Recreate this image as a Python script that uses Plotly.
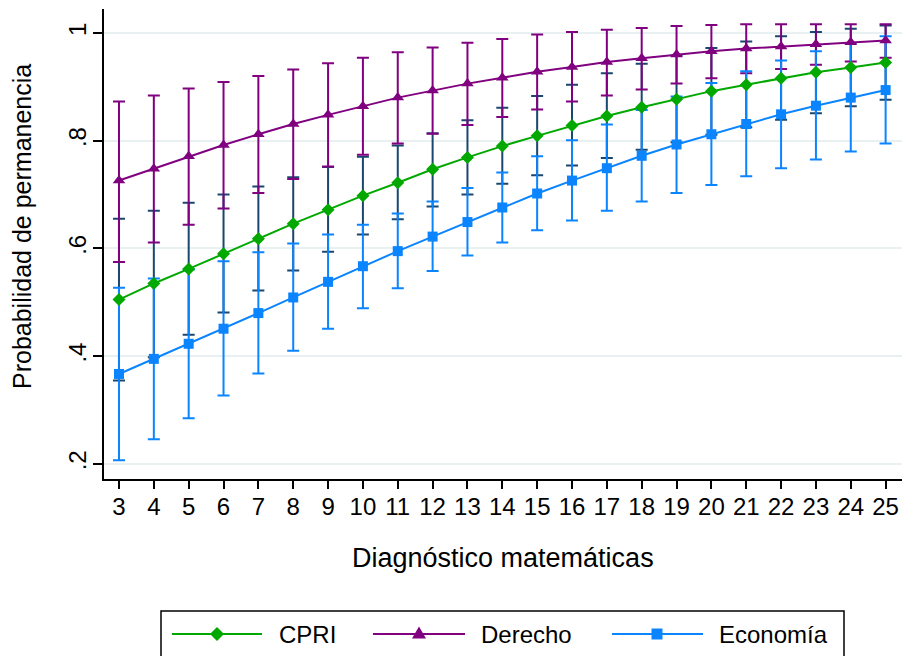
import plotly.graph_objects as go

# Mathematics diagnostic score (x axis)
score = list(range(3, 26))

# Predicted probability of staying enrolled, with 95% confidence limits
cpri_mean = [0.505, 0.535, 0.562, 0.590, 0.618, 0.646, 0.672, 0.698, 0.722, 0.747, 0.769, 0.790,
             0.809, 0.828, 0.846, 0.862, 0.877, 0.892, 0.904, 0.916, 0.927, 0.936, 0.945]
cpri_low = [0.355, 0.398, 0.440, 0.481, 0.522, 0.559, 0.594, 0.626, 0.654, 0.678, 0.700, 0.720,
            0.736, 0.754, 0.768, 0.783, 0.797, 0.811, 0.825, 0.839, 0.851, 0.864, 0.876]
cpri_high = [0.655, 0.670, 0.685, 0.700, 0.715, 0.732, 0.751, 0.770, 0.791, 0.814, 0.838, 0.861,
             0.883, 0.904, 0.925, 0.943, 0.958, 0.972, 0.984, 0.994, 1.002, 1.008, 1.014]

derecho_mean = [0.726, 0.748, 0.771, 0.792, 0.812, 0.831, 0.848, 0.864, 0.880, 0.893, 0.906, 0.917,
                0.928, 0.937, 0.946, 0.953, 0.960, 0.966, 0.971, 0.975, 0.979, 0.983, 0.986]
derecho_low = [0.575, 0.611, 0.644, 0.674, 0.703, 0.729, 0.752, 0.774, 0.795, 0.813, 0.829, 0.844,
               0.858, 0.873, 0.884, 0.895, 0.906, 0.916, 0.925, 0.933, 0.941, 0.947, 0.954]
derecho_high = [0.873, 0.884, 0.897, 0.909, 0.920, 0.932, 0.944, 0.954, 0.964, 0.973, 0.982, 0.989,
                0.997, 1.002, 1.006, 1.009, 1.013, 1.015, 1.016, 1.016, 1.016, 1.016, 1.016]

economia_mean = [0.367, 0.395, 0.423, 0.451, 0.480, 0.509, 0.538, 0.567, 0.595, 0.622, 0.649, 0.676,
                 0.702, 0.726, 0.749, 0.772, 0.793, 0.812, 0.831, 0.849, 0.865, 0.880, 0.894]
economia_low = [0.207, 0.246, 0.285, 0.327, 0.368, 0.410, 0.451, 0.489, 0.526, 0.558, 0.587, 0.611,
                0.634, 0.652, 0.670, 0.687, 0.703, 0.718, 0.734, 0.749, 0.765, 0.780, 0.795]
economia_high = [0.527, 0.544, 0.561, 0.576, 0.593, 0.609, 0.626, 0.644, 0.665, 0.687, 0.712, 0.741,
                 0.771, 0.801, 0.830, 0.857, 0.882, 0.907, 0.929, 0.949, 0.966, 0.981, 0.994]

y_ticks = [0.2, 0.4, 0.6, 0.8, 1.0]
y_tick_text = [".2", ".4", ".6", ".8", "1"]

series = [
    # name, mean, low, high, line colour, CI colour, marker symbol, marker size
    ("CPRI", cpri_mean, cpri_low, cpri_high, "#00a800", "#1a476f", "diamond", 10),
    ("Derecho", derecho_mean, derecho_low, derecho_high, "#800080", "#800080", "triangle-up", 11),
    ("Economía", economia_mean, economia_low, economia_high, "#0a84ff", "#0a84ff", "square", 10),
]

FONT = "Liberation Sans, Arial, Helvetica, sans-serif"
FIG_W, FIG_H = 902, 656
M_L, M_R, M_T, M_B = 104, 0, 9, 177
PW = FIG_W - M_L - M_R
PH = FIG_H - M_T - M_B


def fx(px):
    return (px - M_L) / PW


def fy(py):
    return (FIG_H - M_B - py) / PH


fig = go.Figure()

# confidence-interval caps first, so every line and marker sits on top
for name, mean, low, high, lc, cc, sym, ms in series:
    fig.add_trace(go.Scatter(
        x=score, y=mean, mode="markers",
        marker=dict(size=1, opacity=0),
        error_y=dict(type="data", symmetric=False,
                     array=[h - m for h, m in zip(high, mean)],
                     arrayminus=[m - l for m, l in zip(mean, low)],
                     color=cc, thickness=2, width=6),
        showlegend=False, hoverinfo="skip",
    ))

for name, mean, low, high, lc, cc, sym, ms in series:
    fig.add_trace(go.Scatter(
        x=score, y=mean, mode="lines+markers", name=name,
        line=dict(color=lc, width=2),
        marker=dict(symbol=sym, size=ms, color=lc),
        showlegend=False,
    ))

# legend box drawn below the plot
shapes = [dict(type="rect", xref="paper", yref="paper",
               x0=fx(161), x1=fx(844), y0=fy(664), y1=fy(611),
               line=dict(color="black", width=1.5), fillcolor="white", layer="above")]
annotations = []

marker_paths = {
    "diamond": "M0,7 L7,0 L0,-7 L-7,0 Z",
    "triangle-up": "M-7,-4.5 L7,-4.5 L0,7.5 Z",
    "square": "M-5.5,-5.5 L5.5,-5.5 L5.5,5.5 L-5.5,5.5 Z",
}
legend_items = [(172, 262, 217, 277), (373, 465, 419, 479), (612, 703, 657, 717)]
LEG_Y = 634
for (name, mean, low, high, lc, cc, sym, ms), (x0, x1, xm, xt) in zip(series, legend_items):
    shapes.append(dict(type="line", xref="paper", yref="paper",
                       x0=fx(x0), x1=fx(x1), y0=fy(LEG_Y), y1=fy(LEG_Y),
                       line=dict(color=lc, width=2), layer="above"))
    shapes.append(dict(type="path", xref="paper", yref="paper",
                       xsizemode="pixel", ysizemode="pixel",
                       xanchor=fx(xm), yanchor=fy(LEG_Y),
                       path=marker_paths[sym], fillcolor=lc,
                       line=dict(color=lc, width=0), layer="above"))
    annotations.append(dict(x=fx(xt), y=fy(LEG_Y), xref="paper", yref="paper",
                            text=name, showarrow=False, xanchor="left", yanchor="middle",
                            font=dict(family=FONT, size=24, color="black")))

# axis titles
annotations.append(dict(x=fx(503), y=fy(558), xref="paper", yref="paper",
                        text="Diagnóstico matemáticas", showarrow=False,
                        xanchor="center", yanchor="middle",
                        font=dict(family=FONT, size=27, color="black")))
annotations.append(dict(x=fx(22), y=fy(227), xref="paper", yref="paper",
                        text="Probabilidad de permanencia", showarrow=False, textangle=-90,
                        xanchor="center", yanchor="middle",
                        font=dict(family=FONT, size=25, color="black")))

fig.update_layout(
    width=FIG_W, height=FIG_H,
    margin=dict(l=M_L, r=M_R, t=M_T, b=M_B, pad=0),
    paper_bgcolor="white", plot_bgcolor="white",
    font=dict(family=FONT, size=24, color="black"),
    shapes=shapes, annotations=annotations,
    showlegend=False,
    xaxis=dict(range=[2.57, 25.47], tickmode="array", tickvals=score,
               ticks="outside", ticklen=8, tickwidth=1.5, tickcolor="black",
               ticklabelstandoff=-3,
               showline=True, linecolor="black", linewidth=1.5,
               showgrid=False, zeroline=False,
               tickfont=dict(family=FONT, size=24, color="black")),
    yaxis=dict(range=[0.172, 1.0445], tickmode="array", tickvals=y_ticks, ticktext=y_tick_text,
               tickangle=-90, ticklabelstandoff=-2,
               ticks="outside", ticklen=9, tickwidth=1.5, tickcolor="black",
               showline=True, linecolor="black", linewidth=1.5,
               showgrid=True, gridcolor="#e9f0f2", gridwidth=2, zeroline=False,
               tickfont=dict(family=FONT, size=24, color="black")),
)

fig.write_html("out.html")
